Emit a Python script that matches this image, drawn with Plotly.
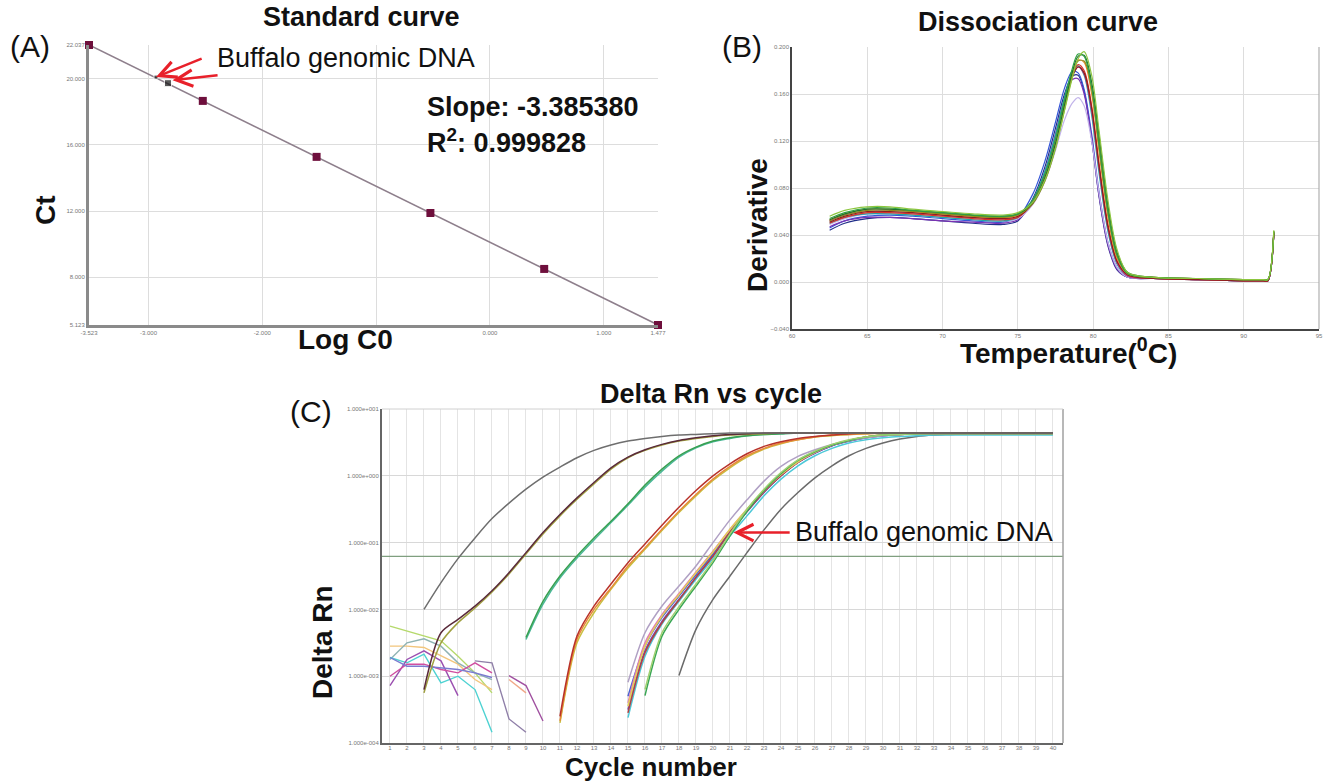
import numpy as np
import plotly.graph_objects as go

# ---------------- Panel A: standard curve ----------------
std_log_c0 = [-3.523, -2.523, -1.523, -0.523, 0.477, 1.477]
std_ct = [22.037, 18.66, 15.28, 11.89, 8.51, 5.123]
buffalo_log_c0 = [-2.934, -2.829]
buffalo_ct = [20.10, 19.73]
slope_text = "Slope: -3.385380"
r2_text = "R<sup>2</sup>: 0.999828"
a_xrange = [-3.523, 1.477]
a_yrange = [5.123, 22.037]
a_xticks = [-3.523, -3.0, -2.0, -1.0, 0.0, 1.0, 1.477]
a_xticklabels = ["-3.523", "-3.000", "-2.000", "", "0.000", "1.000", "1.477"]
a_yticks = [5.123, 8.0, 12.0, 16.0, 20.0, 22.037]
a_yticklabels = ["5.123", "8.000", "12.000", "16.000", "20.000", "22.037"]

# ---------------- Panel B: dissociation curves ----------------
temp = [62.5, 63.5, 65, 66.5, 68, 70, 72, 74, 75, 76, 76.8, 77.5, 78.1, 78.6, 79.0,
        79.4, 79.9, 80.4, 81.0, 81.6, 82.3, 84, 87, 90, 91.3, 91.6, 92.0]
melt_navy = [0.044, 0.050, 0.054, 0.055, 0.054, 0.052, 0.050, 0.049, 0.052, 0.071, 0.098, 0.131, 0.160, 0.175, 0.176, 0.162, 0.122, 0.072, 0.030, 0.010, 0.004, 0.003, 0.002, 0.001, 0.001, 0.001, 0.041]
melt_blue = [0.046, 0.052, 0.056, 0.057, 0.056, 0.054, 0.052, 0.051, 0.055, 0.075, 0.103, 0.136, 0.165, 0.179, 0.178, 0.164, 0.126, 0.076, 0.033, 0.012, 0.004, 0.003, 0.002, 0.001, 0.001, 0.001, 0.041]
melt_purple = [0.047, 0.052, 0.055, 0.055, 0.054, 0.052, 0.051, 0.050, 0.053, 0.069, 0.094, 0.126, 0.156, 0.172, 0.173, 0.160, 0.122, 0.073, 0.031, 0.011, 0.004, 0.003, 0.002, 0.001, 0.001, 0.001, 0.041]
melt_lavender = [0.049, 0.054, 0.058, 0.058, 0.057, 0.055, 0.053, 0.052, 0.054, 0.066, 0.086, 0.112, 0.138, 0.152, 0.157, 0.150, 0.120, 0.075, 0.033, 0.012, 0.004, 0.003, 0.002, 0.001, 0.001, 0.001, 0.041]
melt_teal = [0.050, 0.055, 0.058, 0.058, 0.057, 0.055, 0.053, 0.052, 0.055, 0.070, 0.094, 0.125, 0.157, 0.178, 0.184, 0.176, 0.142, 0.092, 0.042, 0.015, 0.005, 0.003, 0.002, 0.001, 0.001, 0.001, 0.042]
melt_magenta = [0.052, 0.057, 0.060, 0.060, 0.059, 0.057, 0.055, 0.054, 0.056, 0.068, 0.090, 0.120, 0.152, 0.175, 0.183, 0.177, 0.146, 0.096, 0.045, 0.016, 0.005, 0.003, 0.002, 0.001, 0.001, 0.001, 0.042]
melt_red = [0.050, 0.055, 0.059, 0.059, 0.058, 0.056, 0.054, 0.053, 0.055, 0.068, 0.090, 0.120, 0.152, 0.176, 0.185, 0.180, 0.150, 0.100, 0.048, 0.018, 0.006, 0.003, 0.002, 0.001, 0.001, 0.001, 0.042]
melt_darkred = [0.051, 0.056, 0.060, 0.060, 0.059, 0.057, 0.055, 0.054, 0.056, 0.067, 0.088, 0.118, 0.150, 0.174, 0.183, 0.178, 0.148, 0.098, 0.046, 0.017, 0.006, 0.003, 0.002, 0.001, 0.001, 0.001, 0.042]
melt_orange = [0.053, 0.058, 0.062, 0.062, 0.060, 0.058, 0.056, 0.055, 0.057, 0.068, 0.089, 0.119, 0.151, 0.177, 0.189, 0.187, 0.160, 0.110, 0.054, 0.020, 0.007, 0.004, 0.003, 0.002, 0.002, 0.002, 0.043]
melt_olive = [0.052, 0.057, 0.061, 0.061, 0.060, 0.058, 0.056, 0.055, 0.057, 0.067, 0.086, 0.114, 0.147, 0.174, 0.188, 0.188, 0.166, 0.118, 0.060, 0.023, 0.007, 0.004, 0.003, 0.002, 0.002, 0.002, 0.043]
melt_darkgreen = [0.053, 0.058, 0.062, 0.062, 0.061, 0.059, 0.057, 0.056, 0.058, 0.068, 0.089, 0.118, 0.151, 0.178, 0.192, 0.193, 0.170, 0.124, 0.064, 0.025, 0.008, 0.004, 0.003, 0.002, 0.002, 0.002, 0.043]
melt_green = [0.054, 0.059, 0.063, 0.063, 0.061, 0.059, 0.057, 0.056, 0.058, 0.070, 0.092, 0.122, 0.155, 0.181, 0.194, 0.192, 0.165, 0.115, 0.058, 0.022, 0.007, 0.004, 0.003, 0.002, 0.002, 0.002, 0.043]
melt_lime = [0.056, 0.061, 0.064, 0.064, 0.062, 0.060, 0.058, 0.057, 0.059, 0.068, 0.087, 0.114, 0.146, 0.173, 0.190, 0.196, 0.176, 0.128, 0.068, 0.027, 0.008, 0.004, 0.003, 0.002, 0.002, 0.002, 0.044]
b_xrange = [60, 95]
b_yrange = [-0.04, 0.2]
b_xticks = [60, 65, 70, 75, 80, 85, 90, 95]
b_yticks = [-0.04, 0.0, 0.04, 0.08, 0.12, 0.16, 0.20]

# ---------------- Panel C: amplification plot (log10 Delta Rn) ----------------
threshold = 0.062
c_xrange = [0.53, 40.59]
c_ytick_vals = [1e-4, 1e-3, 1e-2, 1e-1, 1e0, 1e1]
c_ytick_text = ["1.000e-004", "1.000e-003", "1.000e-002", "1.000e-001", "1.000e+000", "1.000e+001"]
# amplifying samples: (first cycle, log10 values per cycle)
amp_gray1_start = 3
amp_gray1 = [-2.0, -1.6, -1.24, -0.93, -0.64, -0.41, -0.2, -0.02, 0.13, 0.27, 0.38, 0.46, 0.52, 0.56, 0.59, 0.61, 0.62, 0.63, 0.64, 0.64, 0.64, 0.64, 0.64, 0.64, 0.64, 0.64, 0.64, 0.64, 0.64, 0.64, 0.64, 0.64, 0.64, 0.64, 0.64, 0.64, 0.64, 0.64]
amp_maroon_start = 3
amp_maroon = [-3.2, -2.35, -2.15, -1.95, -1.72, -1.45, -1.15, -0.85, -0.58, -0.33, -0.1, 0.12, 0.28, 0.39, 0.47, 0.53, 0.57, 0.6, 0.62, 0.63, 0.64, 0.64, 0.64, 0.64, 0.64, 0.64, 0.64, 0.64, 0.64, 0.64, 0.64, 0.64, 0.64, 0.64, 0.64, 0.64, 0.64, 0.64]
amp_olive_start = 3
amp_olive = [-3.25, -2.5, -2.2, -1.98, -1.74, -1.47, -1.17, -0.87, -0.6, -0.35, -0.12, 0.1, 0.27, 0.38, 0.46, 0.52, 0.56, 0.59, 0.61, 0.62, 0.63, 0.64, 0.64, 0.64, 0.64, 0.64, 0.64, 0.64, 0.64, 0.64, 0.64, 0.64, 0.64, 0.64, 0.64, 0.64, 0.64, 0.64]
amp_green_start = 9
amp_green = [-2.42, -1.88, -1.5, -1.2, -0.93, -0.68, -0.42, -0.14, 0.1, 0.3, 0.43, 0.52, 0.57, 0.6, 0.62, 0.63, 0.64, 0.64, 0.64, 0.64, 0.64, 0.64, 0.64, 0.64, 0.64, 0.64, 0.64, 0.64, 0.64, 0.64, 0.64, 0.64]
amp_teal_start = 9
amp_teal = [-2.45, -1.92, -1.53, -1.23, -0.96, -0.7, -0.44, -0.17, 0.07, 0.28, 0.42, 0.51, 0.56, 0.6, 0.62, 0.63, 0.64, 0.64, 0.64, 0.64, 0.64, 0.64, 0.64, 0.64, 0.64, 0.64, 0.64, 0.64, 0.64, 0.64, 0.64, 0.64]
amp_orange_start = 11
amp_orange = [-3.67, -2.45, -2.0, -1.68, -1.35, -1.08, -0.8, -0.53, -0.28, -0.05, 0.14, 0.3, 0.41, 0.49, 0.54, 0.58, 0.61, 0.62, 0.63, 0.64, 0.64, 0.64, 0.64, 0.64, 0.64, 0.64, 0.64, 0.64, 0.64, 0.64]
amp_red_start = 11
amp_red = [-3.6, -2.4, -1.95, -1.62, -1.3, -1.02, -0.74, -0.47, -0.22, 0.0, 0.18, 0.33, 0.44, 0.51, 0.56, 0.59, 0.61, 0.63, 0.64, 0.64, 0.64, 0.64, 0.64, 0.64, 0.64, 0.64, 0.64, 0.64, 0.64, 0.64]
amp_yellow11_start = 11
amp_yellow11 = [-3.7, -2.5, -2.05, -1.7, -1.38, -1.1, -0.82, -0.55, -0.3, -0.07, 0.12, 0.28, 0.4, 0.48, 0.54, 0.58, 0.6, 0.62, 0.63, 0.64, 0.64, 0.64, 0.64, 0.64, 0.64, 0.64, 0.64, 0.64, 0.64, 0.64]
amp_lavender_start = 15
amp_lavender = [-3.09, -2.35, -1.95, -1.65, -1.35, -1.0, -0.66, -0.36, -0.08, 0.14, 0.29, 0.39, 0.47, 0.53, 0.57, 0.6, 0.62, 0.63, 0.64, 0.64, 0.64, 0.64, 0.64, 0.64, 0.64, 0.64]
amp_yellow_start = 15
amp_yellow = [-3.45, -2.55, -2.1, -1.78, -1.45, -1.14, -0.8, -0.5, -0.22, 0.02, 0.21, 0.35, 0.46, 0.53, 0.58, 0.61, 0.62, 0.63, 0.64, 0.64, 0.64, 0.64, 0.64, 0.64, 0.64, 0.64]
amp_purple_start = 15
amp_purple = [-3.5, -2.62, -2.18, -1.85, -1.52, -1.2, -0.85, -0.54, -0.25, 0.0, 0.2, 0.34, 0.45, 0.52, 0.57, 0.6, 0.62, 0.63, 0.63, 0.63, 0.63, 0.63, 0.63, 0.63, 0.63, 0.63]
amp_cyan_start = 15
amp_cyan = [-3.62, -2.7, -2.22, -1.88, -1.55, -1.24, -0.9, -0.6, -0.3, -0.05, 0.15, 0.3, 0.41, 0.49, 0.54, 0.57, 0.59, 0.6, 0.61, 0.61, 0.61, 0.61, 0.61, 0.61, 0.61, 0.61]
amp_pink_start = 15
amp_pink = [-3.4, -2.5, -2.08, -1.76, -1.44, -1.13, -0.8, -0.5, -0.22, 0.02, 0.21, 0.35, 0.46, 0.53, 0.58, 0.61, 0.62, 0.63, 0.63, 0.63, 0.63, 0.63, 0.63, 0.63, 0.63, 0.63]
amp_brown_start = 15
amp_brown = [-3.55, -2.65, -2.2, -1.86, -1.52, -1.2, -0.84, -0.53, -0.24, 0.0, 0.2, 0.35, 0.46, 0.53, 0.58, 0.61, 0.63, 0.64, 0.64, 0.64, 0.64, 0.64, 0.64, 0.64, 0.64, 0.64]
amp_blue_start = 15
amp_blue = [-3.3, -2.55, -2.12, -1.8, -1.48, -1.17, -0.83, -0.53, -0.24, 0.0, 0.2, 0.34, 0.45, 0.52, 0.57, 0.6, 0.62, 0.63, 0.63, 0.63, 0.63, 0.63, 0.63, 0.63, 0.63, 0.63]
amp_buffalo_start = 16
amp_buffalo = [-3.29, -2.4, -2.0, -1.65, -1.3, -0.9, -0.53, -0.22, 0.03, 0.23, 0.36, 0.46, 0.53, 0.58, 0.61, 0.62, 0.63, 0.63, 0.63, 0.63, 0.63, 0.63, 0.63, 0.63, 0.63]
amp_buffalo2_start = 16
amp_buffalo2 = [-3.2, -2.35, -1.96, -1.62, -1.27, -0.87, -0.5, -0.2, 0.05, 0.24, 0.37, 0.47, 0.54, 0.58, 0.61, 0.62, 0.63, 0.63, 0.63, 0.63, 0.63, 0.63, 0.63, 0.63, 0.63]
amp_gray2_start = 18
amp_gray2 = [-2.99, -2.3, -1.85, -1.5, -1.15, -0.81, -0.5, -0.25, -0.03, 0.15, 0.3, 0.41, 0.49, 0.55, 0.59, 0.61, 0.62, 0.63, 0.63, 0.63, 0.63, 0.63, 0.63]
# non-amplifying background traces
noise_yellowgreen_start = 1
noise_yellowgreen = [-2.25, -2.32, -2.4, -2.47, -2.7, -2.95, -3.25]
noise_paleorange_start = 1
noise_paleorange = [-2.55, -2.55, -2.57, -2.7, -2.82, -3.05, -3.2]
noise_grayteal_start = 1
noise_grayteal = [-2.75, -2.5, -2.44, -2.55, -2.8, -2.95, -3.05]
noise_cyan_start = 1
noise_cyan = [-2.72, -2.8, -2.67, -3.1, -3.0, -3.2, -3.84]
noise_purple_start = 1
noise_purple = [-3.14, -2.75, -2.62, -2.77, -3.29]
noise_magenta_start = 1
noise_magenta = [-3.0, -2.82, -2.82, -2.9, -2.95, -2.8, -2.95]
noise_violet_start = 1
noise_violet = [-2.72, -2.85, -2.85, -2.87, -2.9, -2.95, -3.02]
noise_mauve_start = 6
noise_mauve = [-2.77, -2.8, -3.64, -3.84]
noise_plum_start = 8
noise_plum = [-2.99, -3.14, -3.67]
noise_salmon_start = 8
noise_salmon = [-3.05, -3.25]
c_xticks = list(range(1, 41))

# ---------------- figure ----------------
W, H = 1323, 782
FONT = "Liberation Sans, Arial, sans-serif"


def px(x):
    return x / W


def py(y):
    return 1 - y / H


fig = go.Figure()

# Panel A
fit = np.polyfit(std_log_c0, std_ct, 1)
fit_x = np.array(a_xrange)
fig.add_trace(go.Scatter(x=fit_x, y=np.polyval(fit, fit_x), mode="lines",
                         line=dict(color="#8e7f8c", width=1.6), xaxis="x", yaxis="y",
                         showlegend=False, hoverinfo="skip"))
fig.add_trace(go.Scatter(x=std_log_c0, y=std_ct, mode="markers", cliponaxis=False,
                         marker=dict(symbol="square", size=8, color="#6e0f3c"),
                         xaxis="x", yaxis="y", showlegend=False))
fig.add_trace(go.Scatter(x=buffalo_log_c0, y=buffalo_ct, mode="markers",
                         marker=dict(symbol="square", size=[4, 7], color="#111111"),
                         xaxis="x", yaxis="y", showlegend=False))

# Panel B
melt_series = [
    (melt_navy, "#22308a"), (melt_blue, "#3556d8"), (melt_purple, "#7b33b3"),
    (melt_lavender, "#c2b4ea"), (melt_teal, "#1fa6a6"), (melt_magenta, "#c4358f"),
    (melt_red, "#d9342b"), (melt_darkred, "#8b1f1f"), (melt_orange, "#e8892c"),
    (melt_olive, "#8c8c1e"), (melt_darkgreen, "#1f7030"), (melt_green, "#2fa040"),
    (melt_lime, "#8cc63f"),
]
for vals, col in melt_series:
    fig.add_trace(go.Scatter(x=temp, y=vals, mode="lines", xaxis="x2", yaxis="y2",
                             line=dict(color=col, width=1.2, shape="spline", smoothing=0.9),
                             showlegend=False, hoverinfo="skip"))

# Panel C: threshold line across the axis range
fig.add_trace(go.Scatter(x=c_xrange, y=[threshold, threshold], mode="lines", xaxis="x3",
                         yaxis="y3", line=dict(color="#7f9f7f", width=1.3),
                         showlegend=False, hoverinfo="skip"))

noise_series = [
    (noise_yellowgreen_start, noise_yellowgreen, "#b5d96b"),
    (noise_paleorange_start, noise_paleorange, "#f2c57c"),
    (noise_grayteal_start, noise_grayteal, "#8fb3b3"),
    (noise_cyan_start, noise_cyan, "#4dd2d2"),
    (noise_purple_start, noise_purple, "#9b4fb0"),
    (noise_magenta_start, noise_magenta, "#d04fa0"),
    (noise_violet_start, noise_violet, "#7b7bd0"),
    (noise_mauve_start, noise_mauve, "#8f7fa8"),
    (noise_plum_start, noise_plum, "#a050a0"),
    (noise_salmon_start, noise_salmon, "#f0a888"),
]
for start, vals, col in noise_series:
    cyc = list(range(start, start + len(vals)))
    fig.add_trace(go.Scatter(x=cyc, y=10 ** np.array(vals), mode="lines", xaxis="x3", yaxis="y3",
                             line=dict(color=col, width=1.4), showlegend=False, hoverinfo="skip"))

amp_series = [
    (amp_gray2_start, amp_gray2, "#6a6a6a"),
    (amp_cyan_start, amp_cyan, "#4cc8d8"),
    (amp_blue_start, amp_blue, "#4a64d0"),
    (amp_purple_start, amp_purple, "#7444b4"),
    (amp_brown_start, amp_brown, "#b04444"),
    (amp_pink_start, amp_pink, "#e07ab4"),
    (amp_yellow_start, amp_yellow, "#e6cf55"),
    (amp_lavender_start, amp_lavender, "#b0a0c4"),
    (amp_buffalo_start, amp_buffalo, "#3aa655"),
    (amp_buffalo2_start, amp_buffalo2, "#a0d070"),
    (amp_yellow11_start, amp_yellow11, "#c8c040"),
    (amp_orange_start, amp_orange, "#e8893a"),
    (amp_red_start, amp_red, "#b8322a"),
    (amp_teal_start, amp_teal, "#4cb89a"),
    (amp_green_start, amp_green, "#38a050"),
    (amp_olive_start, amp_olive, "#a0a040"),
    (amp_maroon_start, amp_maroon, "#5a2a3a"),
    (amp_gray1_start, amp_gray1, "#6e6e6e"),
]
for start, vals, col in amp_series:
    cyc = list(range(start, start + len(vals)))
    fig.add_trace(go.Scatter(x=cyc, y=10 ** np.array(vals), mode="lines", xaxis="x3", yaxis="y3",
                             line=dict(color=col, width=1.5, shape="spline", smoothing=0.8),
                             showlegend=False, hoverinfo="skip"))

tickfont = dict(family=FONT, size=6, color="#777777")
grid = "#dddddd"

fig.update_layout(
    width=W, height=H, margin=dict(l=0, r=0, t=0, b=0, autoexpand=False),
    paper_bgcolor="white", plot_bgcolor="white", showlegend=False,
    font=dict(family=FONT),
    xaxis=dict(domain=[px(89), px(658)], range=a_xrange, anchor="y", automargin=False,
               tickvals=a_xticks, ticktext=a_xticklabels, tickfont=tickfont,
               showgrid=True, gridcolor=grid, zeroline=False,
               showline=True, linecolor="#8a8a8a", linewidth=3, ticks=""),
    yaxis=dict(domain=[py(325), py(45)], range=a_yrange, anchor="x", automargin=False,
               tickvals=a_yticks, ticktext=a_yticklabels, tickfont=tickfont,
               showgrid=True, gridcolor=grid, zeroline=False,
               showline=True, linecolor="#8a8a8a", linewidth=3, ticks=""),
    xaxis2=dict(domain=[px(792), px(1319)], range=b_xrange, anchor="y2", automargin=False,
                tickvals=b_xticks, tickfont=tickfont, showgrid=True, gridcolor=grid,
                zeroline=False, showline=True, linecolor="#444444", linewidth=1.5,
                ticks=""),
    yaxis2=dict(domain=[py(329), py(47)], range=b_yrange, anchor="x2", automargin=False,
                tickvals=b_yticks, tickformat=".3f", tickfont=tickfont, showgrid=True,
                gridcolor=grid, zeroline=False, showline=True, linecolor="#444444",
                linewidth=1.5, ticks=""),
    xaxis3=dict(domain=[px(382), px(1063)], range=c_xrange, anchor="y3", automargin=False,
                tickvals=c_xticks, tickfont=tickfont, showgrid=True, gridcolor="#e4e4e4",
                ticklabelstandoff=-2,
                zeroline=False, showline=True, linecolor="#666666", linewidth=2, ticks=""),
    yaxis3=dict(domain=[py(743), py(409)], type="log", range=[-4, 1], anchor="x3",
                automargin=False,
                tickvals=c_ytick_vals, ticktext=c_ytick_text, tickfont=tickfont,
                showgrid=True, gridcolor="#d8d8d8", zeroline=False, showline=True,
                linecolor="#666666", linewidth=2, ticks=""),
)

# frame lines (right/top edges) for panels B and C
fig.add_shape(type="line", xref="x2 domain", yref="y2 domain", x0=1, x1=1, y0=0, y1=1,
              line=dict(color="#b0b0b0", width=1.2))
fig.add_shape(type="line", xref="x3 domain", yref="y3 domain", x0=1, x1=1, y0=0, y1=1,
              line=dict(color="#a0a0a0", width=1.5))
fig.add_shape(type="line", xref="x3 domain", yref="y3 domain", x0=0, x1=1, y0=1, y1=1,
              line=dict(color="#d0d0d0", width=1))

ann = []


def txt(s, x, y, size, bold=False, angle=0, xanchor="center", color="#111111"):
    ann.append(dict(text=("<b>%s</b>" % s) if bold else s, x=px(x), y=py(y), xref="paper",
                    yref="paper", showarrow=False, xanchor=xanchor, yanchor="middle",
                    textangle=angle, borderpad=0,
                    font=dict(family=FONT, size=size, color=color)))


txt("Standard curve", 361, 17, 27, bold=True)
txt("Dissociation curve", 1038, 22, 27, bold=True)
txt("Delta Rn vs cycle", 711, 394, 27, bold=True)
txt("(A)", 30, 46, 30)
txt("(B)", 742, 46, 30)
txt("(C)", 311, 411, 30)
txt("Ct", 45, 210, 28, bold=True, angle=-90)
txt("Log C0", 345, 339, 28, bold=True)
txt("Derivative", 757, 225, 28, bold=True, angle=-90)
txt("Temperature(<sup>0</sup>C)", 1068, 351, 28, bold=True)
txt("Delta Rn", 322, 642, 28, bold=True, angle=-90)
txt("Cycle number", 651, 767, 26, bold=True)
txt("Buffalo genomic DNA", 216, 58, 27, xanchor="left")
txt(slope_text, 426, 107, 27, bold=True, xanchor="left")
txt(r2_text, 426, 141, 27, bold=True, xanchor="left")
txt("Buffalo genomic DNA", 794, 532, 27, xanchor="left")

# arrows panel A
ann.append(dict(x=buffalo_log_c0[0], y=buffalo_ct[0], xref="x", yref="y",
                ax=-2.52, ay=21.25, axref="x", ayref="y", showarrow=True, text="",
                arrowhead=5, arrowsize=1.3, arrowwidth=2.5, arrowcolor="#e8202a"))
ann.append(dict(x=buffalo_log_c0[1] + 0.04, y=buffalo_ct[1] + 0.18, xref="x", yref="y",
                ax=-2.38, ay=20.22, axref="x", ayref="y", showarrow=True, text="",
                arrowhead=5, arrowsize=1.3, arrowwidth=2.5, arrowcolor="#e8202a"))
# arrow panel C (points to the buffalo curve)
buf_cycle = 21
buf_log = amp_buffalo[buf_cycle - amp_buffalo_start] + 0.05
ann.append(dict(x=buf_cycle + 0.2, y=buf_log, xref="x3", yref="y3",
                ax=24.6, ay=buf_log, axref="x3", ayref="y3", showarrow=True, text="",
                arrowhead=5, arrowsize=1.3, arrowwidth=2.5, arrowcolor="#e8202a"))

fig.update_layout(annotations=ann)
fig.write_html("out.html")
